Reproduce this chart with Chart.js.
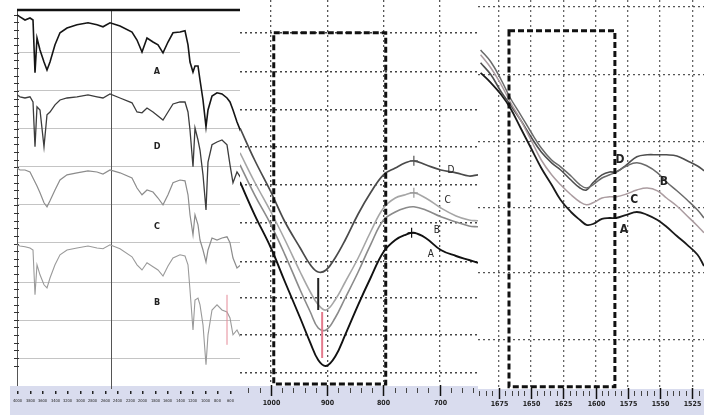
<!DOCTYPE html>
<html>
<head>
<meta charset="utf-8">
<script src="https://cdn.jsdelivr.net/npm/chart.js@4.4.0/dist/chart.umd.min.js"></script>
<style>
html, body { margin: 0; padding: 0; background: #fff; }
#wrap { position: relative; width: 704px; height: 415px; overflow: hidden; }
canvas { position: absolute; top: 0; }
</style>
</head>
<body>
<div id="wrap">
  <canvas id="p1" width="240" height="415" style="left:0"></canvas>
  <canvas id="p2" width="238" height="415" style="left:240px"></canvas>
  <canvas id="p3" width="226" height="415" style="left:478px"></canvas>
</div>
<script>
// ---- panel 1: full spectra (stacked) ----
var wn1 = [4000, 3952, 3872, 3792, 3744, 3712, 3680, 3632, 3568, 3520, 3472, 3392, 3312, 3200, 3040, 2864,
           2720, 2624, 2512, 2352, 2160, 2080, 2000, 1920, 1824, 1744, 1664, 1584, 1504, 1392, 1312, 1264,
           1232, 1184, 1152, 1104, 1072, 1024, 976, 944, 880, 800, 720, 640, 592, 544, 480, 416];
var p1A = [96.3, 95.8, 95, 95.5, 95, 81.8, 90.5, 87.5, 84.5, 82.5, 84.5, 88.8, 91.8, 93, 93.8, 94.3,
           93.8, 93.3, 94.3, 93.5, 92, 90, 87, 90.5, 89.5, 88.8, 86.8, 89.5, 91.8, 92, 92.3, 88.8,
           84.5, 82, 83.5, 83.5, 80, 75, 68.3, 72.5, 76, 76.8, 76.5, 75.5, 74.5, 72.5, 69.5, 67];
var p1D = [76.3, 75.8, 75.5, 75.8, 74.5, 63.3, 73.3, 72.5, 63.3, 71.3, 72, 73.8, 75, 75.5, 75.8, 76.3,
           75.8, 75.5, 76.5, 75.5, 74.3, 72, 71.8, 73, 72, 71, 70, 72, 74, 74.5, 74.5, 72,
           67.5, 58.3, 68, 65, 62.5, 56.3, 47.5, 59.5, 63.8, 64.5, 65, 63.8, 58.8, 54.3, 57, 55.5];
var p1C = [58, 57.5, 57.5, 57, 55.5, 54.5, 53.5, 51.8, 49.3, 48.3, 49.8, 52.5, 55, 56.3, 56.8, 57.3,
           57, 56.5, 57.5, 56.8, 55.5, 53, 51.3, 52.5, 52, 50.5, 48.8, 51.3, 54.3, 55, 54.8, 51.3,
           46.3, 41.3, 46.3, 43.8, 40, 37.5, 34.5, 37.5, 40.5, 40, 40.5, 40.8, 39.3, 35.5, 33, 33.8];
var p1B = [38.8, 38.5, 38.3, 38, 37.5, 26.3, 33.8, 31.3, 28.8, 28, 30.5, 33.8, 36.3, 37.5, 38, 38.5,
           38, 37.8, 38.8, 37.8, 35.8, 33.8, 32.5, 34.3, 33.3, 32.5, 31, 33.5, 35.5, 36.3, 36, 33.8,
           27.5, 17.5, 25, 25.5, 23.8, 18.8, 8.8, 16.3, 22.5, 23.8, 22.5, 22, 20.5, 16.3, 17.5, 15.5];
var ticks1 = [4000, 3800, 3600, 3400, 3200, 3000, 2800, 2600, 2400, 2200, 2000, 1800, 1600, 1400, 1200, 1000, 800, 600];
var grid1 = [10.5, 20, 29.5, 39.3, 48.8, 58.3, 68, 77.5, 86.8];

// ---- panel 2: 1000-700 cm-1 zoom ----
var wn2 = [1055, 1029, 1000, 975, 948, 930, 916, 902, 886, 868, 845, 823, 800, 779, 761, 746, 725, 698, 671, 648, 632];
var p2D = [68, 60, 52, 44.5, 38, 33.8, 32, 32.5, 35.5, 40, 46.5, 51.8, 56.3, 58, 59.3, 59.8, 58.8, 57.5, 56.8, 56, 56.3];
var p2C = [61.8, 54.5, 47, 40, 32, 27, 23.8, 22.5, 25, 29.5, 35.5, 42, 48, 50.5, 51.3, 51.8, 50.5, 48, 46, 45, 44.8];
var p2B = [58.8, 51.3, 43.8, 36.3, 27.5, 22, 18, 17.5, 20.5, 25.5, 32, 38.8, 45, 47, 48, 48.3, 47.5, 45.8, 44.5, 43.5, 43.3];
var p2A = [54.5, 46.3, 38, 29.5, 20.5, 14.3, 10, 8.5, 10.8, 16.3, 23.8, 30.5, 37, 40, 41.3, 41.8, 40.5, 37.5, 36, 35, 34.3];
var ticks2 = [1000, 900, 800, 700];
var grid2 = [91.8, 82, 72.5, 63.3, 53.8, 44.3, 34.5, 25.5, 16.3, 6.8];

// ---- panel 3: 1675-1525 cm-1 zoom ----
var wn3 = [1689, 1681, 1673, 1666, 1658, 1650, 1642, 1634, 1627, 1619, 1612, 1607, 1602, 1595, 1589, 1584,
           1576, 1568, 1560, 1552, 1545, 1537, 1529, 1521, 1516];
var p3D = [84.3, 81.3, 77, 73.8, 70, 65.8, 62, 59.3, 57.5, 55, 53, 52.5, 54.3, 56.3, 57, 57,
           58.8, 60.8, 61.3, 61.3, 61.3, 61, 59.8, 58.5, 57.3];
var p3B = [87.5, 84.5, 80, 75.5, 71.3, 67, 63, 60, 58.3, 56, 53.8, 53, 53.8, 55.5, 56.3, 57,
           58.5, 59.3, 58.5, 56.8, 54.5, 52.3, 50, 47.5, 45.5];
var p3C = [86.3, 83, 78.8, 74.5, 70, 65, 60, 56.3, 53.8, 51.3, 49.5, 48.8, 49.3, 50.5, 50.8, 50.8,
           51.5, 52.5, 53, 52.3, 50.5, 48.5, 46, 43.5, 41.8];
var p3A = [81.8, 79.3, 76.3, 73, 68, 63, 58, 53.8, 50, 47, 45, 43.8, 44, 45.3, 45.5, 45.5,
           46.3, 47, 46.3, 45, 43.3, 41, 38.8, 36.3, 33.5];
var ticks3 = [1675, 1650, 1625, 1600, 1575, 1550, 1525];
var grid3 = [98.3, 81.3, 64.5, 48, 31.8, 15];

var AXIS_FONT = '"DejaVu Sans Condensed", "Liberation Sans Narrow", "DejaVu Sans", sans-serif';

// extra drawing: bottom band, dashed box, letters, markers
function makeDecor(cfg) {
    return {
        id: 'decor',
        beforeDraw: function(chart) {
            var ctx = chart.ctx, a = chart.chartArea;
            ctx.save();
            ctx.fillStyle = '#fff';
            ctx.fillRect(0, 0, chart.width, chart.height);
            ctx.fillStyle = '#d9dcee';
            ctx.fillRect(cfg.bandLeft || 0, a.bottom + 1, chart.width, chart.height - a.bottom);
            ctx.restore();
        },
        beforeDatasetsDraw: function(chart) {
            var ctx = chart.ctx, a = chart.chartArea, xs = chart.scales.x, ys = chart.scales.y;
            ctx.save();
            if (cfg.split) {
                var sx = Math.round(xs.getPixelForValue(cfg.split)) + 0.5;
                ctx.strokeStyle = '#555';
                ctx.lineWidth = 1;
                ctx.beginPath(); ctx.moveTo(sx, a.top); ctx.lineTo(sx, a.bottom + 4); ctx.stroke();
            }
            if (cfg.leftTicks) {
                // small ticks along the left axis, 5 per grid step
                ctx.strokeStyle = '#333';
                ctx.lineWidth = 1;
                var g = cfg.yticks;
                var step = (g[g.length - 1] - g[0]) / (g.length - 1) / 5;
                for (var v = g[0] - step; v < ys.max; v += step) {
                    var py = Math.round(ys.getPixelForValue(v)) + 0.5;
                    ctx.beginPath(); ctx.moveTo(a.left - 3, py); ctx.lineTo(a.left + 2, py); ctx.stroke();
                }
            }
            ctx.restore();
        },
        afterDatasetsDraw: function(chart) {
            var ctx = chart.ctx, a = chart.chartArea, xs = chart.scales.x, ys = chart.scales.y;
            ctx.save();
            if (cfg.topRule) {
                ctx.strokeStyle = '#111';
                ctx.lineWidth = 2.5;
                ctx.beginPath(); ctx.moveTo(a.left, a.top); ctx.lineTo(a.right, a.top); ctx.stroke();
            }
            if (cfg.box) {
                var b = cfg.box;
                var x1 = xs.getPixelForValue(b.x1), x2 = xs.getPixelForValue(b.x2);
                var y1 = ys.getPixelForValue(b.y1), y2 = ys.getPixelForValue(b.y2);
                ctx.strokeStyle = '#111';
                ctx.lineWidth = 3;
                ctx.setLineDash([6, 3]);
                ctx.strokeRect(x1, y1, x2 - x1, y2 - y1);
                ctx.setLineDash([]);
            }
            (cfg.marks || []).forEach(function(m) {
                var mx = xs.getPixelForValue(m.x);
                ctx.strokeStyle = m.color;
                ctx.lineWidth = m.width;
                ctx.beginPath();
                ctx.moveTo(mx, ys.getPixelForValue(m.y1));
                ctx.lineTo(mx, ys.getPixelForValue(m.y2));
                ctx.stroke();
            });
            (cfg.crosses || []).forEach(function(c) {
                var cx = xs.getPixelForValue(c.x), cy = ys.getPixelForValue(c.y);
                ctx.strokeStyle = c.color;
                ctx.lineWidth = 1.2;
                ctx.beginPath();
                ctx.moveTo(cx, cy - 5); ctx.lineTo(cx, cy + 5);
                ctx.moveTo(cx - 4, cy); ctx.lineTo(cx + 4, cy);
                ctx.stroke();
            });
            (cfg.letters || []).forEach(function(t) {
                ctx.font = cfg.letterFont;
                ctx.fillStyle = t.color || '#222';
                ctx.textAlign = 'center';
                ctx.textBaseline = 'middle';
                ctx.fillText(t.t, xs.getPixelForValue(t.x), ys.getPixelForValue(t.y));
            });
            ctx.restore();
        },
        afterDraw: function(chart) {
            var ctx = chart.ctx, a = chart.chartArea, xs = chart.scales.x;
            ctx.save();
            // minor ticks in the band
            if (cfg.minor) {
                ctx.strokeStyle = '#444';
                ctx.lineWidth = 1;
                for (var v = Math.ceil(xs.min / cfg.minor) * cfg.minor; v <= xs.max; v += cfg.minor) {
                    var px = Math.round(xs.getPixelForValue(v)) + 0.5;
                    ctx.beginPath(); ctx.moveTo(px, a.bottom + 3); ctx.lineTo(px, a.bottom + 8); ctx.stroke();
                }
            }
            ctx.font = cfg.tickFont;
            ctx.fillStyle = '#222';
            ctx.textAlign = 'center';
            ctx.textBaseline = 'middle';
            cfg.xticks.forEach(function(t) {
                var px = Math.round(xs.getPixelForValue(t)) + 0.5;
                if (cfg.minor) {
                    ctx.strokeStyle = '#111';
                    ctx.lineWidth = 1.5;
                    ctx.beginPath(); ctx.moveTo(px, a.bottom); ctx.lineTo(px, a.bottom + 11); ctx.stroke();
                } else {
                    ctx.fillRect(px - 0.5, a.bottom + 6, 1.5, 3);
                }
                ctx.fillText(String(t), px, a.bottom + cfg.labelDy);
            });
            ctx.restore();
        }
    };
}

function makeChart(id, cfg) {
    var canvas = document.getElementById(id);
    return new Chart(canvas, {
        type: 'line',
        data: {
            datasets: cfg.series.map(function(s) {
                return {
                    label: s.name,
                    data: cfg.x.map(function(x, i) { return { x: x, y: s.y[i] }; }),
                    borderColor: s.color,
                    borderWidth: s.width,
                    pointRadius: 0,
                    tension: cfg.tension,
                    fill: false
                };
            })
        },
        options: {
            responsive: false,
            animation: false,
            devicePixelRatio: 1,
            layout: { padding: { top: cfg.top, left: 0, right: 0, bottom: 0 } },
            plugins: { legend: { display: false }, tooltip: { enabled: false } },
            scales: {
                x: {
                    type: 'linear',
                    reverse: true,
                    min: cfg.xmin,
                    max: cfg.xmax,
                    afterBuildTicks: function(ax) { ax.ticks = cfg.xticks.map(function(v) { return { value: v }; }); },
                    afterFit: function(ax) { ax.height = cfg.bandH; },
                    ticks: { display: false },
                    grid: { display: cfg.xgrid, color: cfg.xgridColor, lineWidth: 1.3, drawTicks: false },
                    border: { display: false, dash: cfg.dash }
                },
                y: {
                    type: 'linear',
                    min: cfg.ymin,
                    max: cfg.ymax,
                    afterBuildTicks: function(ax) { ax.ticks = cfg.yticks.map(function(v) { return { value: v }; }); },
                    afterFit: function(ax) { ax.width = cfg.yw; },
                    ticks: { display: false },
                    grid: { color: cfg.ygridColor, lineWidth: cfg.ygridWidth, drawTicks: false },
                    border: { display: cfg.yBorder, color: '#555', width: 1, dash: cfg.dash }
                }
            }
        },
        plugins: [makeDecor(cfg)]
    });
}

makeChart('p1', {
    x: wn1, xmin: 432, xmax: 4000, xticks: ticks1, xgrid: false, xgridColor: '#bbb',
    ymin: 3.75, ymax: 97.5, yticks: grid1, ygridColor: '#c4c4c4', ygridWidth: 1,
    top: 10, bandH: 30, yw: 17, yBorder: true, dash: [], tension: 0,
    split: 2500, leftTicks: true, topRule: true, bandLeft: 10,
    tickFont: '4px ' + AXIS_FONT, labelDy: 16, minor: 0,
    letterFont: 'bold 9px ' + AXIS_FONT,
    letters: [
        { t: 'A', x: 1760, y: 82 }, { t: 'D', x: 1760, y: 63.3 },
        { t: 'C', x: 1760, y: 43.3 }, { t: 'B', x: 1760, y: 24.3 }
    ],
    marks: [{ x: 640, y1: 26.3, y2: 13.8, color: '#e58a98', width: 1 }],
    series: [
        { name: 'B', y: p1B, color: '#9a9a9a', width: 1.1 },
        { name: 'C', y: p1C, color: '#8c8c8c', width: 1.2 },
        { name: 'D', y: p1D, color: '#3c3c3c', width: 1.3 },
        { name: 'A', y: p1A, color: '#151515', width: 1.6 }
    ]
});

makeChart('p2', {
    x: wn2, xmin: 632, xmax: 1055, xticks: ticks2, xgrid: true, xgridColor: '#555',
    ymin: 3.75, ymax: 100, yticks: grid2, ygridColor: '#444', ygridWidth: 1.4,
    top: 0, bandH: 30, yw: 0, yBorder: false, dash: [2, 3], tension: 0.4,
    tickFont: 'bold 7px ' + AXIS_FONT, labelDy: 18, minor: 20,
    box: { x1: 995, x2: 796, y1: 91.8, y2: 4 },
    letterFont: '10px ' + AXIS_FONT,
    letters: [
        { t: 'D', x: 680, y: 57.5 }, { t: 'C', x: 686, y: 50 },
        { t: 'B', x: 705, y: 42.5 }, { t: 'A', x: 716, y: 36.5 }
    ],
    marks: [
        { x: 916, y1: 30.5, y2: 22.5, color: '#222', width: 2 },
        { x: 909, y1: 22, y2: 10.5, color: '#e47a8c', width: 2 }
    ],
    crosses: [
        { x: 746, y: 59.8, color: '#555' }, { x: 746, y: 51.8, color: '#999' },
        { x: 750, y: 41.8, color: '#111' }
    ],
    series: [
        { name: 'B', y: p2B, color: '#8a8a8a', width: 1.6 },
        { name: 'C', y: p2C, color: '#a6a6a6', width: 1.6 },
        { name: 'D', y: p2D, color: '#4a4a4a', width: 1.7 },
        { name: 'A', y: p2A, color: '#111', width: 1.9 }
    ]
});

makeChart('p3', {
    x: wn3, xmin: 1516, xmax: 1691, xticks: ticks3, xgrid: true, xgridColor: '#666',
    ymin: 3, ymax: 100, yticks: grid3, ygridColor: '#555', ygridWidth: 1.3,
    top: 0, bandH: 27, yw: 0, yBorder: false, dash: [2, 3], tension: 0.4,
    tickFont: 'bold 7px ' + AXIS_FONT, labelDy: 16, minor: 5,
    box: { x1: 1667, x2: 1585, y1: 92.3, y2: 3.3 },
    letterFont: 'bold 12px ' + AXIS_FONT,
    letters: [
        { t: 'D', x: 1581, y: 60 }, { t: 'B', x: 1547, y: 54.5 },
        { t: 'C', x: 1570, y: 50 }, { t: 'A', x: 1578, y: 42.5 }
    ],
    series: [
        { name: 'C', y: p3C, color: '#ab9ca0', width: 1.5 },
        { name: 'B', y: p3B, color: '#6a6a6a', width: 1.5 },
        { name: 'D', y: p3D, color: '#4e4e4e', width: 1.6 },
        { name: 'A', y: p3A, color: '#1a1a1a', width: 1.8 }
    ]
});
</script>
</body>
</html>
